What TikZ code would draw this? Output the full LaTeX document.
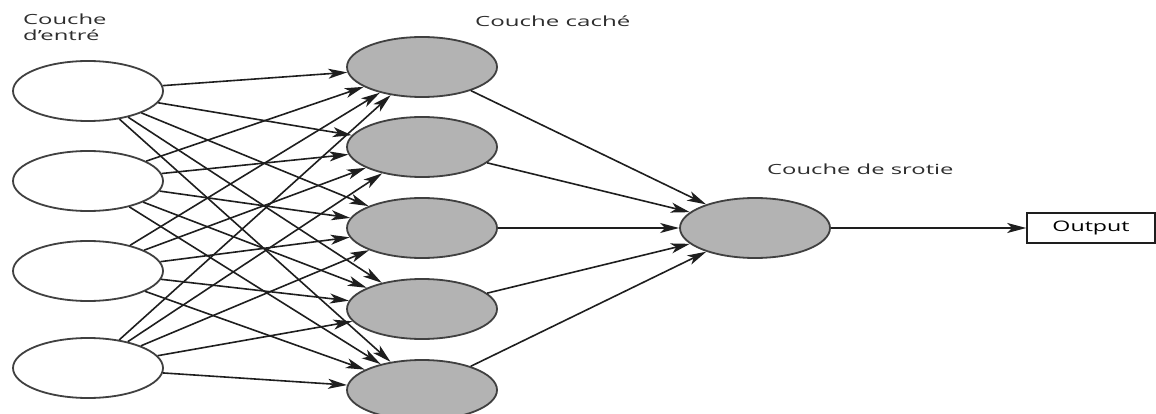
\documentclass[tikz,border=0pt]{standalone}
\usepackage{fontspec}
\setmainfont{Open Sans}
\usetikzlibrary{shapes.geometric,arrows.meta}
\definecolor{edgecol}{HTML}{1E1E1E}
\definecolor{rimcol}{HTML}{404040}
\definecolor{cellfill}{HTML}{B3B3B3}
\definecolor{labelcol}{HTML}{2E2E2E}
\tikzset{
  neuron/.style={ellipse, draw=rimcol, line width=1.8pt, minimum width=150pt,
                 minimum height=60pt, inner sep=0pt},
  inputcell/.style={neuron, fill=white},
  hiddencell/.style={neuron, fill=cellfill},
  link/.style={draw=edgecol, line width=1.6pt,
               -{Stealth[length=19pt,width=10pt,inset=5pt]}},
  layerlabel/.style={text=labelcol, font=\fontsize{14}{16}\selectfont,
                     inner sep=0pt, anchor=base west, align=left},
  outbox/.style={draw=edgecol, line width=1.5pt, minimum width=128pt,
                 minimum height=30pt, inner sep=0pt, text=black,
                 font=\fontsize{14.5}{16}\selectfont}
}
\begin{document}
\begin{tikzpicture}[x=1pt,y=-1pt]
\useasboundingbox (0,0) rectangle (1156,414);
\begin{scope}
\clip (0,0) rectangle (1156,414);

% input layer
\node[inputcell] (i1) at (88,91) {};
\node[inputcell] (i2) at (88,181) {};
\node[inputcell] (i3) at (88,271) {};
\node[inputcell] (i4) at (88,368) {};

% hidden layer
\node[hiddencell] (h1) at (422,67) {};
\node[hiddencell] (h2) at (422,147) {};
\node[hiddencell] (h3) at (422,228) {};
\node[hiddencell] (h4) at (422,309) {};
\node[hiddencell] (h5) at (422,390) {};

% output layer
\node[hiddencell] (o) at (755,228) {};
\node[outbox] (out) at (1091,228) {\scalebox{1.6}[1]{Output}};

% fully connected input -> hidden
\foreach \i in {1,...,4}
  \foreach \h in {1,...,5}
    \draw[link] (i\i) -- (h\h);

% hidden -> output
\foreach \h in {1,...,5}
  \draw[link] (h\h) -- (o);

\draw[link] (o) -- (out);

% layer titles
\node[layerlabel] (lin1) at (23,25) {\scalebox{1.7}[1]{Couche}};
\node[layerlabel] (lin2) at (23,41) {\scalebox{1.7}[1]{d'entré}};
\node[layerlabel] (lhid) at (475,27) {\scalebox{1.72}[1]{Couche caché}};
\node[layerlabel] (lout) at (767,175) {\scalebox{1.7}[1]{Couche de srotie}};
\end{scope}
\end{tikzpicture}
\end{document}
